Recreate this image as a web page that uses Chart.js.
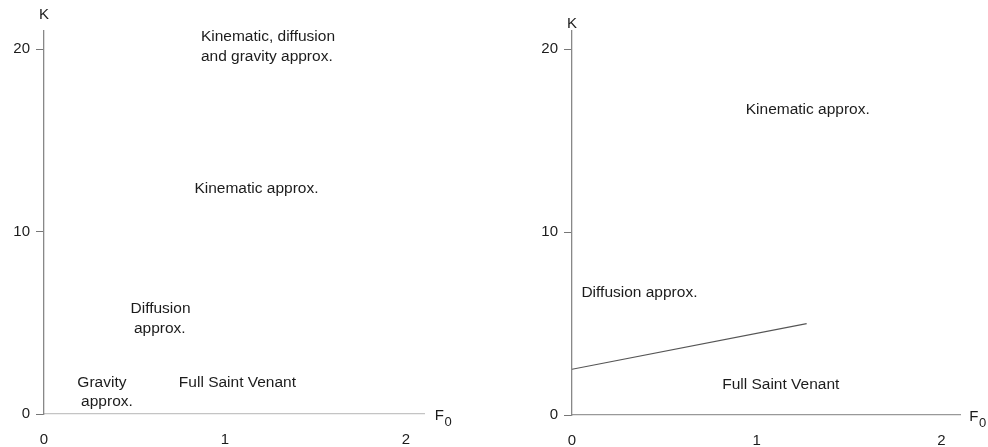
<!DOCTYPE html>
<html>
<head>
<meta charset="utf-8">
<script src="https://cdn.jsdelivr.net/npm/chart.js@4.4.1/dist/chart.umd.min.js"></script>
<style>
  html, body { margin: 0; padding: 0; background: #fff; }
  #wrap { position: relative; width: 988px; height: 447px; overflow: hidden; }
  canvas { position: absolute; top: 0; }
  #left { left: 0; }
  #right { left: 494px; }
</style>
</head>
<body>
<div id="wrap">
  <canvas id="left" width="494" height="447"></canvas>
  <canvas id="right" width="494" height="447"></canvas>
</div>
<script>
// Axis ticks (Froude number F0 and kinematic number K)
const fTicks = [0, 1, 2];
const kTicks = [0, 10, 20];
const fRange = [0, 2.1];
const kRange = [0, 21];

// Boundary between diffusion and full Saint Venant regions (right panel)
const boundaryF = [0, 1.27];
const boundaryK = [2.5, 5.0];

// Region names with their anchor points (F0, K)
const leftRegionText = ['Kinematic, diffusion', 'and gravity approx.', 'Kinematic approx.', 'Diffusion', 'approx.', 'Gravity', 'approx.', 'Full Saint Venant'];
const leftRegionF = [0.867, 0.867, 1.174, 0.644, 0.64, 0.32, 0.348, 1.069];
const leftRegionK = [20.7, 19.6, 12.36, 5.77, 4.67, 1.70, 0.66, 1.70];
const leftRegionAlign = ['left', 'left', 'center', 'center', 'center', 'center', 'center', 'center'];

const rightRegionText = ['Kinematic approx.', 'Diffusion approx.', 'Full Saint Venant'];
const rightRegionF = [1.276, 0.365, 1.13];
const rightRegionK = [16.67, 6.67, 1.64];

const FONT = '"Liberation Sans", Arial, Helvetica, sans-serif';
const INK = '#1c1c1c';

// Draws region names and axis titles in data coordinates
const regionText = {
  id: 'regionText',
  afterDraw(chart, args, opts) {
    const { ctx } = chart;
    const xs = chart.scales.x, ys = chart.scales.y;
    ctx.save();
    ctx.fillStyle = INK;
    ctx.textBaseline = 'middle';
    ctx.font = '15.5px ' + FONT;
    for (const item of opts.items) {
      ctx.textAlign = item.align || 'center';
      ctx.fillText(item.text, xs.getPixelForValue(item.f), ys.getPixelForValue(item.k));
    }
    // K title above the vertical axis
    ctx.font = '15px ' + FONT;
    ctx.textAlign = 'center';
    ctx.fillText('K', xs.getPixelForValue(0), ys.getPixelForValue(opts.kTitleAt));
    // F0 title at the end of the horizontal axis
    const fx = xs.getPixelForValue(opts.fTitleAt);
    const fy = ys.getPixelForValue(0) + 2;
    ctx.textAlign = 'left';
    ctx.fillText('F', fx, fy);
    const w = ctx.measureText('F').width;
    ctx.font = '13px ' + FONT;
    ctx.fillText('0', fx + w + 0.5, fy + 6);
    ctx.restore();
  }
};

function makeItems(texts, fs, ks, aligns) {
  return texts.map((t, i) => ({ text: t, f: fs[i], k: ks[i], align: aligns ? aligns[i] : 'center' }));
}

function panel(canvasId, cfg) {
  return new Chart(document.getElementById(canvasId), {
    type: 'scatter',
    data: { datasets: cfg.datasets },
    plugins: [regionText],
    options: {
      responsive: false,
      animation: false,
      devicePixelRatio: 1,
      layout: { padding: { top: cfg.top, right: cfg.right, left: 0, bottom: 0 } },
      plugins: {
        legend: { display: false },
        tooltip: { enabled: false },
        regionText: { items: cfg.items, kTitleAt: cfg.kTitleAt, fTitleAt: cfg.fTitleAt }
      },
      scales: {
        x: {
          type: 'linear',
          min: fRange[0], max: fRange[1],
          afterBuildTicks: s => { s.ticks = fTicks.map(v => ({ value: v })); },
          afterFit: s => { s.height = cfg.xHeight; },
          grid: { display: true, drawOnChartArea: false, drawTicks: false },
          border: { display: true, color: cfg.xAxisColor, width: 1.3 },
          ticks: { padding: 17, color: INK, font: { family: FONT, size: 15 } }
        },
        y: {
          type: 'linear',
          min: kRange[0], max: kRange[1],
          afterBuildTicks: s => { s.ticks = kTicks.map(v => ({ value: v })); },
          afterFit: s => { s.width = cfg.yWidth; },
          grid: { display: true, drawOnChartArea: false, drawTicks: true, tickLength: 8, color: '#777' },
          border: { display: true, color: '#888', width: 1.3 },
          ticks: { padding: 6, color: INK, font: { family: FONT, size: 15 } }
        }
      }
    }
  });
}

// Left panel: region map without a drawn boundary
panel('left', {
  datasets: [],
  top: 31, right: 70, yWidth: 44, xHeight: 33,
  xAxisColor: '#c4c4c4',
  items: makeItems(leftRegionText, leftRegionF, leftRegionK, leftRegionAlign),
  kTitleAt: 21.9, fTitleAt: 2.16
});

// Right panel: straight boundary separating diffusion and full Saint Venant
panel('right', {
  datasets: [{
    type: 'line',
    data: boundaryF.map((f, i) => ({ x: f, y: boundaryK[i] })),
    borderColor: '#555',
    borderWidth: 1.2,
    pointRadius: 0,
    fill: false
  }],
  top: 31, right: 28, yWidth: 78, xHeight: 32,
  xAxisColor: '#999',
  items: makeItems(rightRegionText, rightRegionF, rightRegionK),
  kTitleAt: 21.4, fTitleAt: 2.15
});
</script>
</body>
</html>
